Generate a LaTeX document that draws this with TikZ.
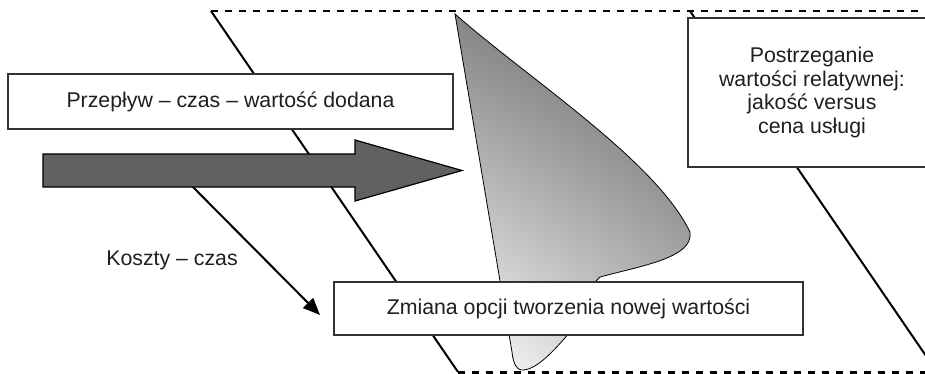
\documentclass[tikz,border=0pt]{standalone}
\usepackage{fontspec}
\setmainfont{Liberation Sans}
\usetikzlibrary{arrows.meta,shadings}
\begin{document}
\begin{tikzpicture}[x=1pt,y=-1pt,
  txt/.style={font=\fontsize{21.3}{23.5}\selectfont, text=black!88},
  boxnode/.style={txt, draw=black!80, line width=1.1pt, fill=white, inner sep=0pt, align=center},
  edge/.style={line width=2pt, black},
  dashline/.style={line width=2pt, dash pattern=on 7pt off 7pt, black}
]
\useasboundingbox (0,0) rectangle (925,374);
\clip (0,0) rectangle (925,374);
\fill[white] (0,0) rectangle (925,374);
% parallelogram corners
\coordinate (tl) at (211,11);
\coordinate (bl) at (458,372);
\coordinate (tr) at (690,11);
\coordinate (br) at (937,372);
\draw[edge] (tl) -- (bl);
\draw[edge] (tr) -- (br);
\draw[dashline] (tl) -- (925,11);
\draw[dashline, line width=3pt] (bl) -- (925,372);
% shaded cone
\shade[upper right=black!62, upper left=black!48, lower left=white, lower right=black!25, draw=black, line width=0.8pt]
  (455,14) .. controls (530,80) and (655,160) .. (690,232)
  .. controls (694,258) and (640,266) .. (600,277)
  -- (596,281) -- (588,310)
  .. controls (560,345) and (540,368) .. (524,370)
  .. controls (516,371) and (513,362) .. (512,352) -- cycle;
% Koszty arrow
\coordinate (kstart) at (186,180);
\coordinate (kend) at (320,315);
\draw[line width=2pt, -{Triangle[length=17pt,width=14pt]}] (kstart) -- (kend);
% big arrow
\coordinate (atip) at (462,170.5);
\filldraw[fill=black!62, draw=black, line width=1.2pt]
  (43,154) -- (355,154) -- (355,140) -- (atip) -- (355,201) -- (355,187) -- (43,187) -- cycle;
% boxes
\node[boxnode, minimum width=445pt, minimum height=55pt] (flow) at (230.5,101.5) {Przepływ – czas – wartość dodana};
\node[boxnode, minimum width=469pt, minimum height=53pt] (change) at (568.5,308.5) {Zmiana opcji tworzenia nowej wartości};
\node[boxnode, minimum width=248pt, minimum height=149pt] (perc) at (812,92.5) {Postrzeganie\\wartości relatywnej:\\jakość versus\\cena usługi};
\node[txt] (koszty) at (172,260) {Koszty – czas};
\end{tikzpicture}
\end{document}
